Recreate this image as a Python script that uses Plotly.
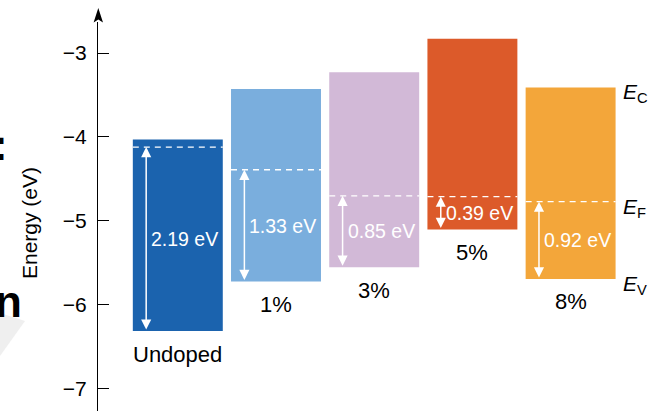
import numpy as np
import plotly.graph_objects as go

# Band edges for each doping level (eV)
categories = ["Undoped", "1%", "3%", "5%", "8%"]
conduction_band = [-4.03, -3.43, -3.23, -2.83, -3.41]   # E_C
valence_band = [-6.31, -5.72, -5.55, -5.10, -5.69]      # E_V
fermi_gap = [2.19, 1.33, 0.85, 0.39, 0.92]              # E_F - E_V
bar_colors = ["#1b63ae", "#7aaedd", "#d2b9d7", "#dc5a2a", "#f3a63a"]
y_ticks = [-7, -6, -5, -4, -3]
level_names = ["C", "F", "V"]

FONT = "Arial, 'Liberation Sans', Helvetica, sans-serif"
FIG_W, FIG_H = 649, 411
M_L, M_R, M_T, M_B = 98, 0, 22, 0
PW, PH = FIG_W - M_L - M_R, FIG_H - M_T - M_B

BAR_W = 0.916
ARROW_OFF = 0.322  # arrow position measured from bar centre

pos = np.arange(len(categories))
ec = np.array(conduction_band)
ev = np.array(valence_band)
ef = ev + np.array(fermi_gap)


def px_x(p):
    return (p - M_L) / PW


def px_y(p):
    return (FIG_H - M_B - p) / PH


fig = go.Figure()

# band rectangles: from E_V up to E_C
fig.add_trace(go.Bar(
    x=pos, y=ec - ev, base=ev, width=BAR_W,
    marker=dict(color=bar_colors, line=dict(width=0)),
    hoverinfo="skip", showlegend=False,
))

# Fermi levels as dashed white lines across each bar
for i in range(len(categories)):
    fig.add_trace(go.Scatter(
        x=[pos[i] - BAR_W / 2, pos[i] + BAR_W / 2], y=[ef[i], ef[i]],
        mode="lines", line=dict(color="white", width=1.3, dash="6px,5px"),
        hoverinfo="skip", showlegend=False,
    ))

annotations = []
for i, cat in enumerate(categories):
    xa = pos[i] - ARROW_OFF
    # double-headed arrow E_F <-> E_V
    annotations.append(dict(
        x=xa, y=ef[i], ax=xa, ay=ev[i], xref="x", yref="y", axref="x", ayref="y",
        text="", showarrow=True, arrowside="end+start",
        arrowhead=2, startarrowhead=2, arrowsize=1.35, startarrowsize=1.35,
        arrowwidth=1.5, arrowcolor="white", standoff=0, startstandoff=0,
    ))
    annotations.append(dict(
        x=xa, y=(ef[i] + ev[i]) / 2, xref="x", yref="y", xanchor="left", yanchor="middle",
        xshift=3, text=f"{fermi_gap[i]:.2f} eV", showarrow=False,
        font=dict(family=FONT, size=19.5, color="white"),
    ))
    annotations.append(dict(
        x=pos[i], y=ev[i], xref="x", yref="y", xanchor="center", yanchor="middle",
        yshift=-23, text=cat, showarrow=False,
        font=dict(family=FONT, size=22, color="black"),
    ))

# level labels to the right of the last bar
for name, lvl in zip(level_names, [ec[-1], ef[-1], ev[-1]]):
    annotations.append(dict(
        x=pos[-1] + BAR_W / 2, y=lvl, xref="x", yref="y", xanchor="left", yanchor="middle",
        xshift=5, yshift=-6, text=f"<i>E</i><sub>{name}</sub>", showarrow=False,
        font=dict(family=FONT, size=21, color="black"),
    ))

# axis title
annotations.append(dict(
    x=px_x(29), y=px_y(223), xref="paper", yref="paper", xanchor="center", yanchor="middle",
    text="Energy (eV)", textangle=-90, showarrow=False,
    font=dict(family=FONT, size=21, color="black"),
))

# clipped lettering at the left edge
annotations.append(dict(
    x=px_x(10), y=px_y(144), xref="paper", yref="paper", xanchor="right", yanchor="middle",
    text="<b>:</b>", showarrow=False, font=dict(family=FONT, size=44, color="black"),
))
annotations.append(dict(
    x=px_x(-7), y=px_y(301), xref="paper", yref="paper", xanchor="left", yanchor="middle",
    text="<b>n</b>", showarrow=False, font=dict(family=FONT, size=44, color="black"),
))

shapes = [
    # arrowhead on top of the energy axis
    dict(type="path", xref="paper", yref="paper",
         path=(f"M{px_x(98.3)},{px_y(8)} L{px_x(103)},{px_y(22.5)} "
               f"L{px_x(98.3)},{px_y(19.5)} L{px_x(93.6)},{px_y(22.5)} Z"),
         fillcolor="black", line=dict(width=0)),
    # faint grey wedge at the left edge
    dict(type="path", xref="paper", yref="paper",
         path=f"M{px_x(0)},{px_y(313)} L{px_x(25)},{px_y(321)} L{px_x(0)},{px_y(356)} Z",
         fillcolor="#efefef", line=dict(width=0), layer="below"),
]

fig.update_layout(
    width=FIG_W, height=FIG_H,
    margin=dict(l=M_L, r=M_R, t=M_T, b=M_B, pad=0),
    paper_bgcolor="white", plot_bgcolor="white",
    showlegend=False,
    annotations=annotations, shapes=shapes,
    font=dict(family=FONT, color="black"),
    xaxis=dict(range=[-0.8126, 4.7983], visible=False, fixedrange=True),
    yaxis=dict(
        range=[-7.262, -2.631], tickvals=y_ticks,
        showline=True, linecolor="black", linewidth=1.3,
        ticks="inside", ticklen=11, tickwidth=1.3, tickcolor="black",
        tickfont=dict(family=FONT, size=21, color="black"),
        ticklabelstandoff=6,
        showgrid=False, zeroline=False, fixedrange=True,
    ),
)

fig.write_html("out.html")
